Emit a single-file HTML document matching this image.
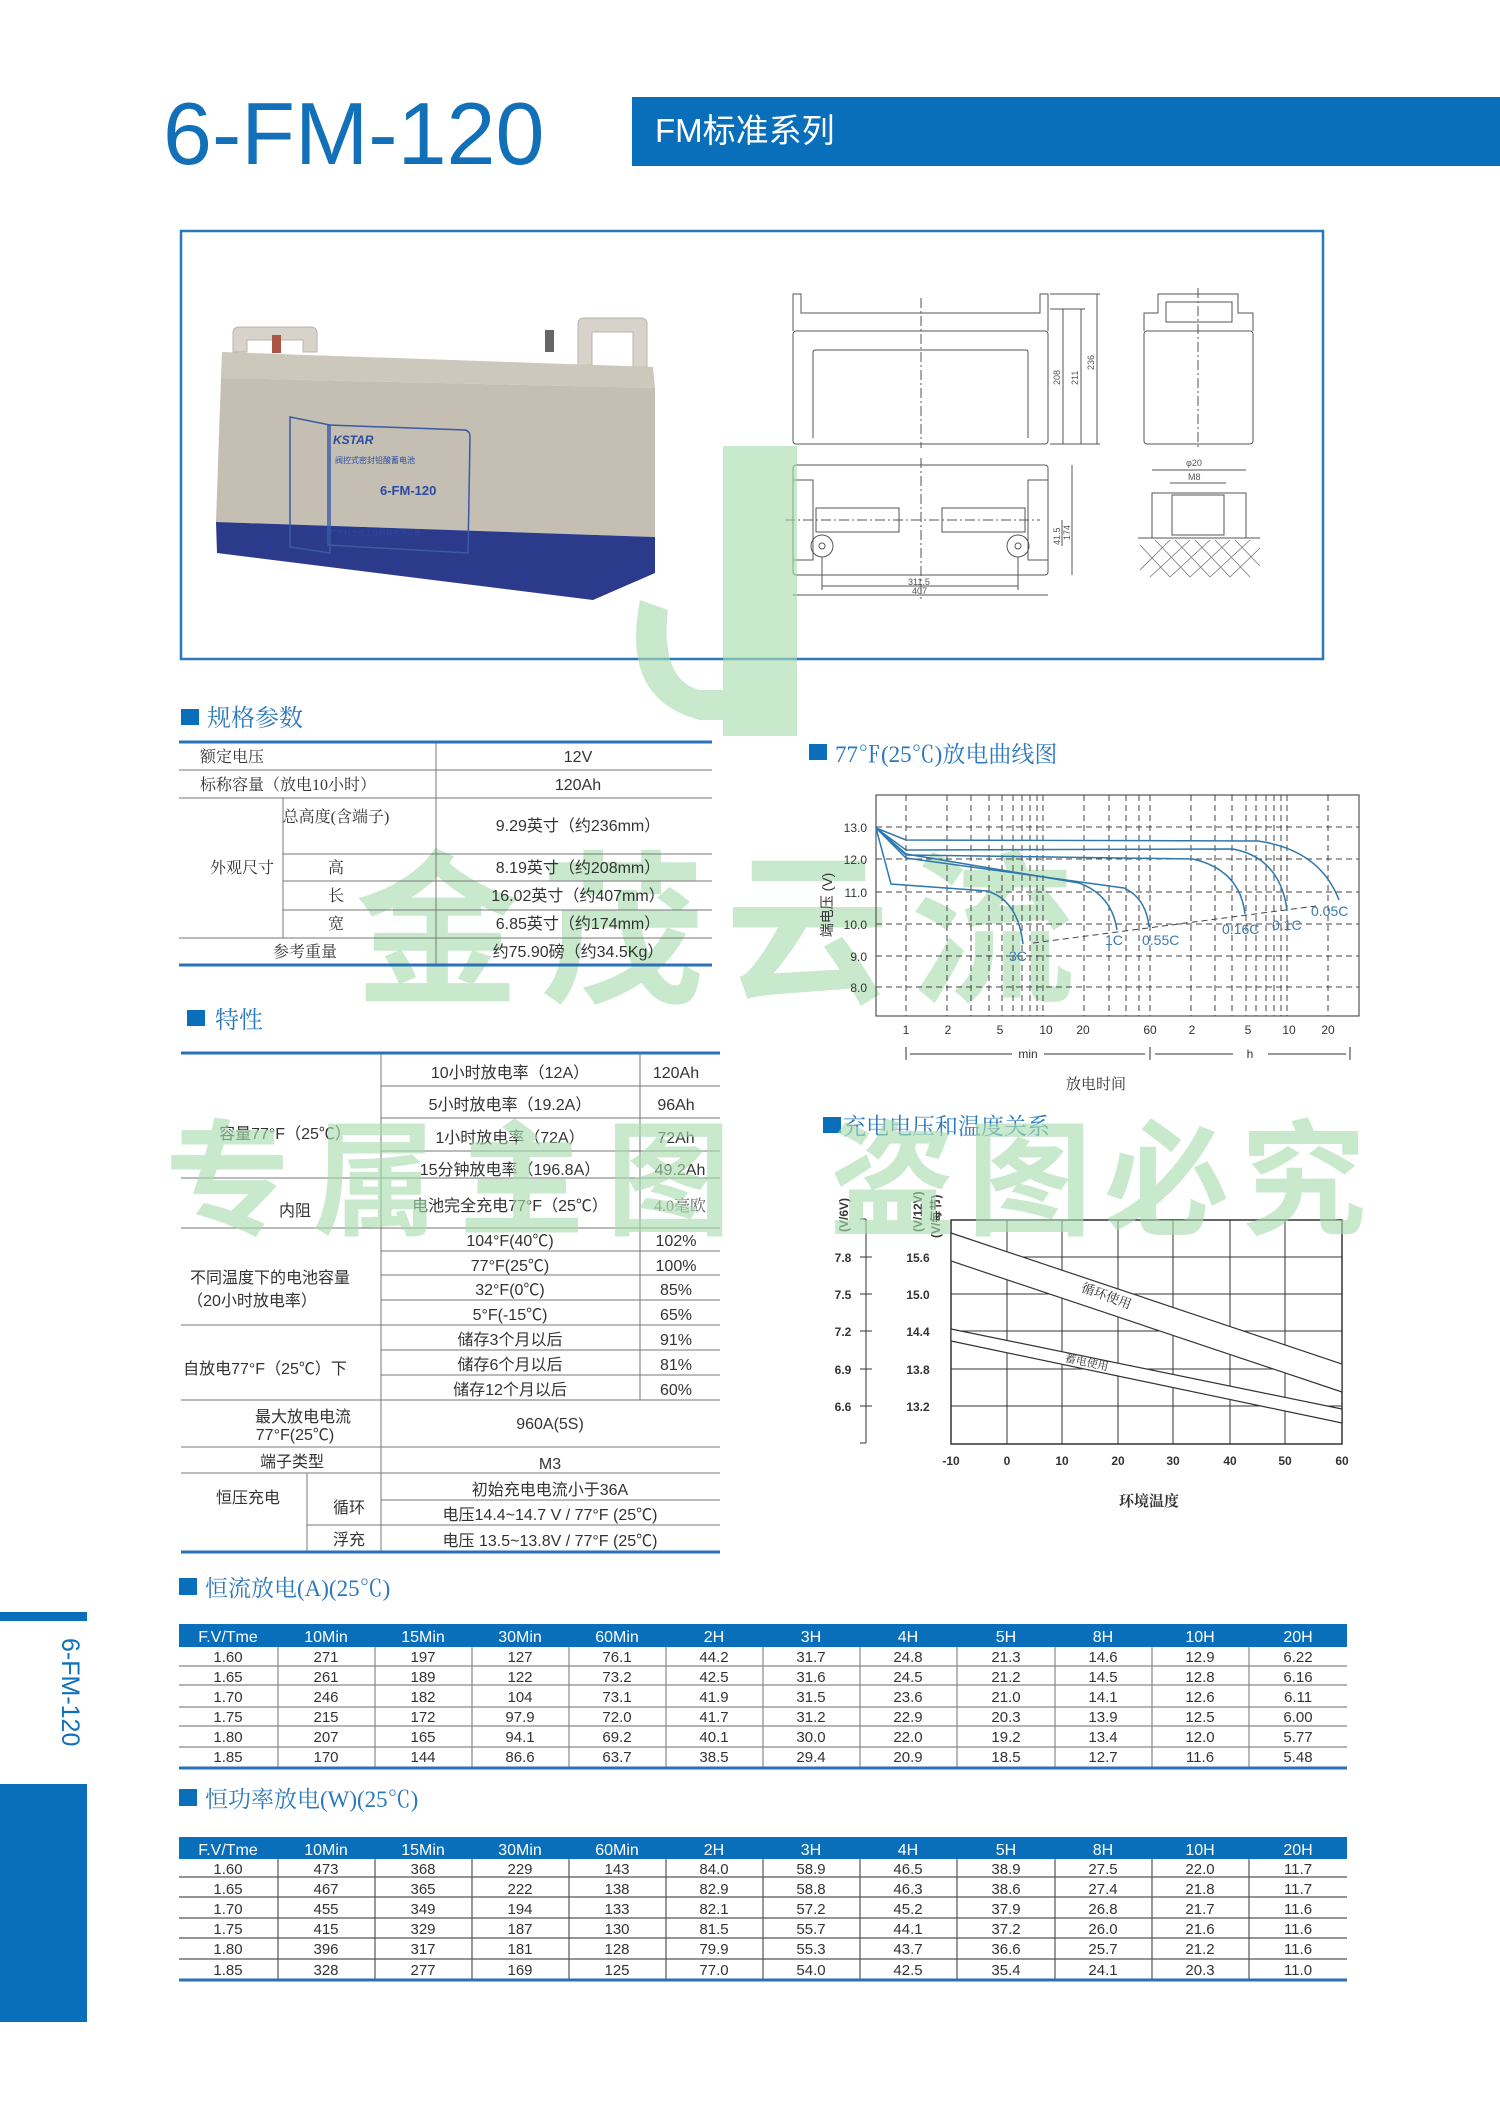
<!DOCTYPE html>
<html><head><meta charset="utf-8"><style>
html,body{margin:0;padding:0;background:#fff}
svg{display:block}
text{font-family:"Liberation Sans","Noto Sans CJK SC",sans-serif}
.s{font-family:"Liberation Serif","Noto Serif CJK SC",serif}
.wm{font-family:"Noto Sans CJK SC",sans-serif;font-weight:bold;fill:#a8dcae;opacity:.62}
</style></head><body>
<svg width="1500" height="2121" viewBox="0 0 1500 2121" xmlns="http://www.w3.org/2000/svg">
<!-- Title -->
<text x="163" y="164" font-size="88" fill="#1170b8">6-FM-120</text>
<rect x="632" y="97" width="868" height="69" fill="#0a6fba"/>
<text x="655" y="142" font-size="33" fill="#fff">FM标准系列</text>

<!-- photo box -->
<rect x="181" y="231" width="1142" height="428" fill="none" stroke="#2b79bd" stroke-width="2.5"/>
<!-- battery -->
<path d="M233 352 V333 Q233 327 240 327 H310 Q317 327 317 333 V352 H303 V340 H247 V352 Z" fill="#d7d3ca" stroke="#b9b4a8"/>
<path d="M578 365 V324 Q578 318 585 318 H640 Q647 318 647 324 V367 H633 V332 H592 V365 Z" fill="#d7d3ca" stroke="#b9b4a8"/>
<rect x="272" y="335" width="9" height="18" fill="#a54"/>
<rect x="545" y="330" width="9" height="22" fill="#666"/>
<polygon points="222,352 653,367 655,388 221,378" fill="#cdc8bc"/>
<polygon points="221,378 655,388 655,537 216,522" fill="#c4bfb2"/>
<polygon points="216,522 655,537 655,573 593,600 217,553" fill="#2c3a8c"/>
<polygon points="290,417 330,425 330,553 290,547" fill="none" stroke="#3a5aa8" stroke-width="1.5"/>
<path d="M328 425 L465 430 Q470 431 470 437 L468 553 L328 545 Z" fill="none" stroke="#3a5aa8" stroke-width="1.5"/>
<text x="333" y="444" font-size="12" font-weight="bold" fill="#2b4aa0" font-style="italic">KSTAR</text>
<text x="380" y="495" font-size="13" font-weight="bold" fill="#2b4aa0">6-FM-120</text>
<text x="335" y="463" font-size="8" fill="#2b4aa0">阀控式密封铅酸蓄电池</text>
<text x="330" y="535" font-size="7" fill="#2b4aa0">广东科士达工业科技有限公司</text>

<!-- technical drawings -->
<g fill="none" stroke="#555" stroke-width="1">
<rect x="793" y="331" width="255" height="113" rx="3"/>
<path d="M793 331 V294 H801 V313 H1040 V294 H1048 V331"/>
<path d="M813 438 V352 Q813 350 816 350 H1026 Q1028 350 1028 352 V438"/>
<line x1="921" y1="298" x2="921" y2="448" stroke-dasharray="10,3,2,3"/>
<path d="M1050 294 H1100 M1050 309 H1085 M1050 444 H1100"/>
<line x1="1063" y1="309" x2="1063" y2="444"/><line x1="1081" y1="309" x2="1081" y2="444"/><line x1="1097" y1="294" x2="1097" y2="444"/>
<rect x="793" y="465" width="255" height="110" rx="3"/>
<rect x="793" y="480" width="20" height="80"/><rect x="1028" y="480" width="20" height="80"/>
<rect x="816" y="508" width="83" height="24"/><rect x="942" y="508" width="83" height="24"/>
<circle cx="822" cy="546" r="11"/><circle cx="1018" cy="546" r="11"/>
<circle cx="822" cy="546" r="3"/><circle cx="1018" cy="546" r="3"/>
<line x1="785" y1="520" x2="1040" y2="520" stroke-dasharray="10,3,2,3"/>
<line x1="921" y1="458" x2="921" y2="600" stroke-dasharray="10,3,2,3"/>
<line x1="822" y1="586" x2="1018" y2="586"/><line x1="793" y1="595" x2="1048" y2="595"/>
<line x1="822" y1="557" x2="822" y2="590"/><line x1="1018" y1="557" x2="1018" y2="590"/>
<line x1="1072" y1="465" x2="1072" y2="575"/><line x1="1062" y1="520" x2="1062" y2="546"/>
<rect x="1144" y="331" width="109" height="113" rx="3"/>
<path d="M1144 331 V313 H1158 V294 H1238 V313 H1253 V331"/>
<rect x="1166" y="302" width="66" height="20"/>
<line x1="1198" y1="288" x2="1198" y2="448" stroke-dasharray="10,3,2,3"/>
<rect x="1152" y="493" width="94" height="45"/>
<rect x="1172" y="495" width="52" height="40"/>
<path d="M1152 470 H1246 M1170 483 H1226"/>
<path d="M1138 538 H1260"/>
</g>
<g stroke="#777" stroke-width=".8">
<path d="M1140 545 L1170 577 M1155 540 L1190 577 M1175 540 L1210 577 M1195 540 L1230 577 M1215 540 L1250 577 M1235 540 L1260 566 M1140 570 L1170 540 M1150 577 L1190 540 M1170 577 L1210 540 M1190 577 L1230 540 M1210 577 L1250 540 M1230 577 L1260 548"/>
</g>
<g font-size="9" fill="#555">
<text x="1060" y="385" transform="rotate(-90 1060 385)">208</text>
<text x="1078" y="385" transform="rotate(-90 1078 385)">211</text>
<text x="1094" y="370" transform="rotate(-90 1094 370)">236</text>
<text x="1070" y="540" transform="rotate(-90 1070 540)">174</text>
<text x="1060" y="545" transform="rotate(-90 1060 545)">41.5</text>
<text x="908" y="585">311.5</text><text x="912" y="594">407</text>
<text x="1186" y="466">φ20</text><text x="1188" y="480">M8</text>
</g>

<!-- watermarks -->
<rect x="723" y="446" width="74" height="290" fill="#a8dcae" opacity=".62"/>
<path d="M640 600 Q620 700 700 720 L723 720 V690 L700 690 Q660 680 668 610 Z" fill="#a8dcae" opacity=".62"/>
<text class="wm" x="355" y="990" font-size="165" letter-spacing="20">金茂云流</text>

<!-- 规格参数 -->
<rect x="181" y="709" width="18" height="16" fill="#0a6fba"/>
<text class="s" x="207" y="726" font-size="24" fill="#2a78bd">规格参数</text>
<g stroke="#777" stroke-width="1">
<line x1="179" y1="770" x2="712" y2="770"/><line x1="179" y1="798" x2="712" y2="798"/>
<line x1="283" y1="854" x2="712" y2="854"/><line x1="283" y1="881" x2="712" y2="881"/><line x1="283" y1="910" x2="712" y2="910"/>
<line x1="179" y1="938" x2="712" y2="938"/>
<line x1="436" y1="742" x2="436" y2="965"/><line x1="283" y1="798" x2="283" y2="938"/>
</g>
<line x1="179" y1="742" x2="712" y2="742" stroke="#2a72b8" stroke-width="3"/>
<line x1="179" y1="965" x2="712" y2="965" stroke="#2a72b8" stroke-width="3"/>
<g font-size="16" fill="#333" text-anchor="middle">
<text class="s" x="200" y="762" text-anchor="start">额定电压</text>
<text class="s" x="200" y="790" text-anchor="start">标称容量（放电10小时）</text>
<text class="s" x="242" y="873">外观尺寸</text>
<text class="s" x="336" y="822">总高度(含端子)</text>
<text class="s" x="336" y="873">高</text><text class="s" x="336" y="901">长</text><text class="s" x="336" y="929">宽</text>
<text class="s" x="305" y="957">参考重量</text>
<text x="578" y="762">12V</text><text x="578" y="790">120Ah</text>
<text x="578" y="831">9.29英寸（约236mm）</text>
<text x="578" y="873">8.19英寸（约208mm）</text>
<text x="578" y="901">16.02英寸（约407mm）</text>
<text x="578" y="929">6.85英寸（约174mm）</text>
<text x="578" y="957">约75.90磅（约34.5Kg）</text>
</g>

<!-- 特性 -->
<rect x="187" y="1010" width="18" height="16" fill="#0a6fba"/>
<text class="s" x="215" y="1028" font-size="24" fill="#2a78bd">特性</text>
<g stroke="#777" stroke-width="1">
<line x1="381" y1="1086" x2="720" y2="1086"/><line x1="381" y1="1118" x2="720" y2="1118"/><line x1="381" y1="1151" x2="720" y2="1151"/>
<line x1="181" y1="1178" x2="720" y2="1178"/><line x1="181" y1="1228" x2="720" y2="1228"/>
<line x1="381" y1="1251" x2="720" y2="1251"/><line x1="381" y1="1275" x2="720" y2="1275"/><line x1="381" y1="1300" x2="720" y2="1300"/>
<line x1="181" y1="1325" x2="720" y2="1325"/><line x1="381" y1="1350" x2="720" y2="1350"/><line x1="381" y1="1375" x2="720" y2="1375"/>
<line x1="181" y1="1400" x2="720" y2="1400"/><line x1="181" y1="1447" x2="720" y2="1447"/><line x1="181" y1="1473" x2="720" y2="1473"/>
<line x1="381" y1="1500" x2="720" y2="1500"/><line x1="307" y1="1525" x2="720" y2="1525"/>
<line x1="381" y1="1053" x2="381" y2="1552"/><line x1="640" y1="1053" x2="640" y2="1400"/><line x1="307" y1="1473" x2="307" y2="1552"/>
</g>
<line x1="181" y1="1053" x2="720" y2="1053" stroke="#2a72b8" stroke-width="3"/>
<line x1="181" y1="1552" x2="720" y2="1552" stroke="#2a72b8" stroke-width="3"/>
<g font-size="16" fill="#333" text-anchor="middle">
<text x="285" y="1139">容量77°F（25℃）</text>
<text x="295" y="1216">内阻</text>
<text x="270" y="1283">不同温度下的电池容量</text><text x="252" y="1306">（20小时放电率）</text>
<text x="265" y="1374">自放电77°F（25℃）下</text>
<text x="303" y="1422">最大放电电流</text><text x="295" y="1440">77°F(25℃)</text>
<text x="292" y="1467">端子类型</text>
<text x="248" y="1503">恒压充电</text><text x="349" y="1513">循环</text><text x="349" y="1545">浮充</text>
<text x="510" y="1078">10小时放电率（12A）</text><text x="510" y="1110">5小时放电率（19.2A）</text>
<text x="510" y="1143">1小时放电率（72A）</text><text x="510" y="1175">15分钟放电率（196.8A）</text>
<text x="510" y="1211">电池完全充电77°F（25℃）</text>
<text x="510" y="1246">104°F(40℃)</text><text x="510" y="1271">77°F(25℃)</text><text x="510" y="1295">32°F(0℃)</text><text x="510" y="1320">5°F(-15℃)</text>
<text x="510" y="1345">储存3个月以后</text><text x="510" y="1370">储存6个月以后</text><text x="510" y="1395">储存12个月以后</text>
<text x="550" y="1429">960A(5S)</text><text x="550" y="1469">M3</text>
<text x="550" y="1495">初始充电电流小于36A</text><text x="550" y="1520">电压14.4~14.7 V / 77°F (25℃)</text><text x="550" y="1546">电压 13.5~13.8V / 77°F (25℃)</text>
<text x="676" y="1078">120Ah</text><text x="676" y="1110">96Ah</text><text x="676" y="1143">72Ah</text><text x="680" y="1175">49.2Ah</text>
<text class="s" x="680" y="1211" fill="#666">4.0毫欧</text>
<text x="676" y="1246">102%</text><text x="676" y="1271">100%</text><text x="676" y="1295">85%</text><text x="676" y="1320">65%</text>
<text x="676" y="1345">91%</text><text x="676" y="1370">81%</text><text x="676" y="1395">60%</text>
</g>

<!-- discharge chart -->
<rect x="809" y="744" width="18" height="16" fill="#0a6fba"/>
<text class="s" x="835" y="762" font-size="23" fill="#2a78bd">77℉(25℃)放电曲线图</text>
<rect x="876" y="795" width="483" height="221" fill="none" stroke="#555" stroke-width="1.2"/>
<g stroke="#444" stroke-width="1" stroke-dasharray="6,4">
<line x1="876" y1="827" x2="1359" y2="827"/><line x1="876" y1="859" x2="1359" y2="859"/><line x1="876" y1="892" x2="1359" y2="892"/>
<line x1="876" y1="924" x2="1359" y2="924"/><line x1="876" y1="956" x2="1359" y2="956"/><line x1="876" y1="987" x2="1359" y2="987"/>
</g>
<g stroke="#444" stroke-width="1" stroke-dasharray="6,4">
<path d="M906 795V1016M947 795V1016M971 795V1016M989 795V1016M1002 795V1016M1013 795V1016M1022 795V1016M1030 795V1016M1037 795V1016M1043 795V1016M1084 795V1016M1109 795V1016M1126 795V1016M1139 795V1016M1150 795V1016M1191 795V1016M1215 795V1016M1232 795V1016M1246 795V1016M1256 795V1016M1266 795V1016M1274 795V1016M1281 795V1016M1287 795V1016M1328 795V1016"/>
</g>
<g fill="none" stroke="#2f78ac" stroke-width="1.5">
<path d="M876 828 L891 884 L987 891 Q1018 900 1023 944"/>
<path d="M876 828 L906 854 L1079 883 Q1112 895 1117 930"/>
<path d="M876 828 L906 858 L1124 888 Q1146 898 1149 927"/>
<path d="M876 828 L906 855 L1193 859 Q1240 870 1245 914"/>
<path d="M876 828 L906 850 L1233 849 Q1280 858 1287 910"/>
<path d="M876 828 L906 840 L1258 841 Q1320 850 1339 900"/>
</g>
<line x1="1033" y1="943" x2="1316" y2="906" stroke="#444" stroke-dasharray="6,4"/>
<g font-size="14" fill="#3a7ab0">
<text x="1009" y="961">3C</text><text x="1105" y="945">1C</text><text x="1142" y="945">0.55C</text>
<text x="1222" y="934">0.16C</text><text x="1272" y="930">0.1C</text><text x="1311" y="916">0.05C</text>
</g>
<g font-size="12" fill="#333" text-anchor="end">
<text x="867" y="832">13.0</text><text x="867" y="864">12.0</text><text x="867" y="897">11.0</text>
<text x="867" y="929">10.0</text><text x="867" y="961">9.0</text><text x="867" y="992">8.0</text>
</g>
<text x="832" y="905" font-size="14" fill="#333" transform="rotate(-90 832 905)" text-anchor="middle">端电压 (V)</text>
<g font-size="12" fill="#333" text-anchor="middle">
<text x="906" y="1034">1</text><text x="948" y="1034">2</text><text x="1000" y="1034">5</text><text x="1046" y="1034">10</text>
<text x="1083" y="1034">20</text><text x="1150" y="1034">60</text><text x="1192" y="1034">2</text><text x="1248" y="1034">5</text>
<text x="1289" y="1034">10</text><text x="1328" y="1034">20</text>
<text x="1028" y="1058">min</text><text x="1250" y="1058">h</text>
</g>
<g stroke="#333" stroke-width="1">
<path d="M906 1047V1060M1150 1047V1060M1350 1047V1060M910 1054H1012M1044 1054H1145M1155 1054H1233M1268 1054H1346"/>
</g>
<text class="s" x="1096" y="1089" font-size="15" fill="#333" text-anchor="middle">放电时间</text>

<!-- charge chart -->
<rect x="823" y="1117" width="18" height="16" fill="#0a6fba"/>
<text class="s" x="843" y="1134" font-size="23" fill="#2a78bd">充电电压和温度关系</text>
<rect x="951" y="1220" width="391" height="224" fill="none" stroke="#333" stroke-width="1.5"/>
<g stroke="#333" stroke-width="1">
<path d="M1007 1220V1444M1062 1220V1444M1118 1220V1444M1173 1220V1444M1230 1220V1444M1285 1220V1444"/>
<path d="M951 1257H1342M951 1294H1342M951 1331H1342M951 1369H1342M951 1406H1342"/>
<path d="M866 1219V1443M860 1219H866M860 1443H866M860 1257H872M860 1294H872M860 1331H872M860 1369H872M860 1406H872"/>
</g>
<polygon points="951,1233 1342,1364 1342,1392 951,1261" fill="#fff" stroke="#333" stroke-width="1.2"/>
<polygon points="951,1329 1342,1409 1342,1423 951,1341" fill="#fff" stroke="#333" stroke-width="1.2"/>
<text class="s" x="1105" y="1300" font-size="13" fill="#333" transform="rotate(20 1105 1300)" text-anchor="middle">循环使用</text>
<text class="s" x="1086" y="1366" font-size="11" fill="#333" transform="rotate(12 1086 1366)" text-anchor="middle">蓄电使用</text>
<g font-size="12" font-weight="bold" fill="#333" text-anchor="middle">
<text x="843" y="1262">7.8</text><text x="843" y="1299">7.5</text><text x="843" y="1336">7.2</text><text x="843" y="1374">6.9</text><text x="843" y="1411">6.6</text>
<text x="918" y="1262">15.6</text><text x="918" y="1299">15.0</text><text x="918" y="1336">14.4</text><text x="918" y="1374">13.8</text><text x="918" y="1411">13.2</text>
<text x="951" y="1465">-10</text><text x="1007" y="1465">0</text><text x="1062" y="1465">10</text><text x="1118" y="1465">20</text>
<text x="1173" y="1465">30</text><text x="1230" y="1465">40</text><text x="1285" y="1465">50</text><text x="1342" y="1465">60</text>
</g>
<g font-size="12" font-weight="bold" fill="#333">
<text x="848" y="1232" transform="rotate(-90 848 1232)">(V/6V)</text>
<text x="922" y="1232" transform="rotate(-90 922 1232)">(V/12V)</text>
<text x="940" y="1238" transform="rotate(-90 940 1238)">(V/每节)</text>
</g>
<text class="s" x="1149" y="1506" font-size="15" font-weight="bold" fill="#333" text-anchor="middle">环境温度</text>

<text class="wm" x="165" y="1225" font-size="125" letter-spacing="22">专属主图</text>
<text class="wm" x="830" y="1225" font-size="125" letter-spacing="12">盗图必究</text>

<!-- sidebar -->
<rect x="0" y="1612" width="87" height="9" fill="#0a6fba"/>
<rect x="0" y="1784" width="87" height="238" fill="#0a6fba"/>
<text x="62" y="1638" font-size="25" fill="#1170b8" transform="rotate(90 62 1638)">6-FM-120</text>

<!-- table 1 -->
<rect x="179" y="1578" width="18" height="17" fill="#0a6fba"/>
<text class="s" x="205" y="1596" font-size="23" fill="#2a78bd">恒流放电(A)(25℃)</text>
<rect x="179" y="1624" width="1168" height="23" fill="#0a6fba"/>
<g stroke="#888" stroke-width="1.2">
<path d="M179 1666H1347M179 1685H1347M179 1707H1347M179 1726H1347M179 1747H1347"/>
<path d="M278 1647V1768M375 1647V1768M472 1647V1768M569 1647V1768M666 1647V1768M763 1647V1768M860 1647V1768M957 1647V1768M1055 1647V1768M1152 1647V1768M1249 1647V1768"/>
</g>
<line x1="179" y1="1768" x2="1347" y2="1768" stroke="#2a72b8" stroke-width="3"/>
<g font-size="16" fill="#fff" text-anchor="middle">
<text x="228" y="1642">F.V/Tme</text><text x="326" y="1642">10Min</text><text x="423" y="1642">15Min</text><text x="520" y="1642">30Min</text><text x="617" y="1642">60Min</text><text x="714" y="1642">2H</text><text x="811" y="1642">3H</text><text x="908" y="1642">4H</text><text x="1006" y="1642">5H</text><text x="1103" y="1642">8H</text><text x="1200" y="1642">10H</text><text x="1298" y="1642">20H</text>
</g>
<g font-size="15" fill="#333" text-anchor="middle">
<g transform="translate(0,1662)"><text x="228">1.60</text><text x="326">271</text><text x="423">197</text><text x="520">127</text><text x="617">76.1</text><text x="714">44.2</text><text x="811">31.7</text><text x="908">24.8</text><text x="1006">21.3</text><text x="1103">14.6</text><text x="1200">12.9</text><text x="1298">6.22</text></g>
<g transform="translate(0,1682)"><text x="228">1.65</text><text x="326">261</text><text x="423">189</text><text x="520">122</text><text x="617">73.2</text><text x="714">42.5</text><text x="811">31.6</text><text x="908">24.5</text><text x="1006">21.2</text><text x="1103">14.5</text><text x="1200">12.8</text><text x="1298">6.16</text></g>
<g transform="translate(0,1702)"><text x="228">1.70</text><text x="326">246</text><text x="423">182</text><text x="520">104</text><text x="617">73.1</text><text x="714">41.9</text><text x="811">31.5</text><text x="908">23.6</text><text x="1006">21.0</text><text x="1103">14.1</text><text x="1200">12.6</text><text x="1298">6.11</text></g>
<g transform="translate(0,1722)"><text x="228">1.75</text><text x="326">215</text><text x="423">172</text><text x="520">97.9</text><text x="617">72.0</text><text x="714">41.7</text><text x="811">31.2</text><text x="908">22.9</text><text x="1006">20.3</text><text x="1103">13.9</text><text x="1200">12.5</text><text x="1298">6.00</text></g>
<g transform="translate(0,1742)"><text x="228">1.80</text><text x="326">207</text><text x="423">165</text><text x="520">94.1</text><text x="617">69.2</text><text x="714">40.1</text><text x="811">30.0</text><text x="908">22.0</text><text x="1006">19.2</text><text x="1103">13.4</text><text x="1200">12.0</text><text x="1298">5.77</text></g>
<g transform="translate(0,1762)"><text x="228">1.85</text><text x="326">170</text><text x="423">144</text><text x="520">86.6</text><text x="617">63.7</text><text x="714">38.5</text><text x="811">29.4</text><text x="908">20.9</text><text x="1006">18.5</text><text x="1103">12.7</text><text x="1200">11.6</text><text x="1298">5.48</text></g>
</g>

<!-- table 2 -->
<rect x="179" y="1789" width="18" height="17" fill="#0a6fba"/>
<text class="s" x="205" y="1807" font-size="23" fill="#2a78bd">恒功率放电(W)(25℃)</text>
<rect x="179" y="1837" width="1168" height="22" fill="#0a6fba"/>
<g stroke="#555" stroke-width="1.2">
<path d="M179 1877H1347M179 1897H1347M179 1918H1347M179 1938H1347M179 1959H1347"/>
<path d="M278 1859V1980M375 1859V1980M472 1859V1980M569 1859V1980M666 1859V1980M763 1859V1980M860 1859V1980M957 1859V1980M1055 1859V1980M1152 1859V1980M1249 1859V1980"/>
</g>
<line x1="179" y1="1980" x2="1347" y2="1980" stroke="#2a72b8" stroke-width="3"/>
<g font-size="16" fill="#fff" text-anchor="middle">
<text x="228" y="1855">F.V/Tme</text><text x="326" y="1855">10Min</text><text x="423" y="1855">15Min</text><text x="520" y="1855">30Min</text><text x="617" y="1855">60Min</text><text x="714" y="1855">2H</text><text x="811" y="1855">3H</text><text x="908" y="1855">4H</text><text x="1006" y="1855">5H</text><text x="1103" y="1855">8H</text><text x="1200" y="1855">10H</text><text x="1298" y="1855">20H</text>
</g>
<g font-size="15" fill="#333" text-anchor="middle">
<g transform="translate(0,1874)"><text x="228">1.60</text><text x="326">473</text><text x="423">368</text><text x="520">229</text><text x="617">143</text><text x="714">84.0</text><text x="811">58.9</text><text x="908">46.5</text><text x="1006">38.9</text><text x="1103">27.5</text><text x="1200">22.0</text><text x="1298">11.7</text></g>
<g transform="translate(0,1894)"><text x="228">1.65</text><text x="326">467</text><text x="423">365</text><text x="520">222</text><text x="617">138</text><text x="714">82.9</text><text x="811">58.8</text><text x="908">46.3</text><text x="1006">38.6</text><text x="1103">27.4</text><text x="1200">21.8</text><text x="1298">11.7</text></g>
<g transform="translate(0,1914)"><text x="228">1.70</text><text x="326">455</text><text x="423">349</text><text x="520">194</text><text x="617">133</text><text x="714">82.1</text><text x="811">57.2</text><text x="908">45.2</text><text x="1006">37.9</text><text x="1103">26.8</text><text x="1200">21.7</text><text x="1298">11.6</text></g>
<g transform="translate(0,1934)"><text x="228">1.75</text><text x="326">415</text><text x="423">329</text><text x="520">187</text><text x="617">130</text><text x="714">81.5</text><text x="811">55.7</text><text x="908">44.1</text><text x="1006">37.2</text><text x="1103">26.0</text><text x="1200">21.6</text><text x="1298">11.6</text></g>
<g transform="translate(0,1954)"><text x="228">1.80</text><text x="326">396</text><text x="423">317</text><text x="520">181</text><text x="617">128</text><text x="714">79.9</text><text x="811">55.3</text><text x="908">43.7</text><text x="1006">36.6</text><text x="1103">25.7</text><text x="1200">21.2</text><text x="1298">11.6</text></g>
<g transform="translate(0,1975)"><text x="228">1.85</text><text x="326">328</text><text x="423">277</text><text x="520">169</text><text x="617">125</text><text x="714">77.0</text><text x="811">54.0</text><text x="908">42.5</text><text x="1006">35.4</text><text x="1103">24.1</text><text x="1200">20.3</text><text x="1298">11.0</text></g>
</g>
</svg>
</body></html>
